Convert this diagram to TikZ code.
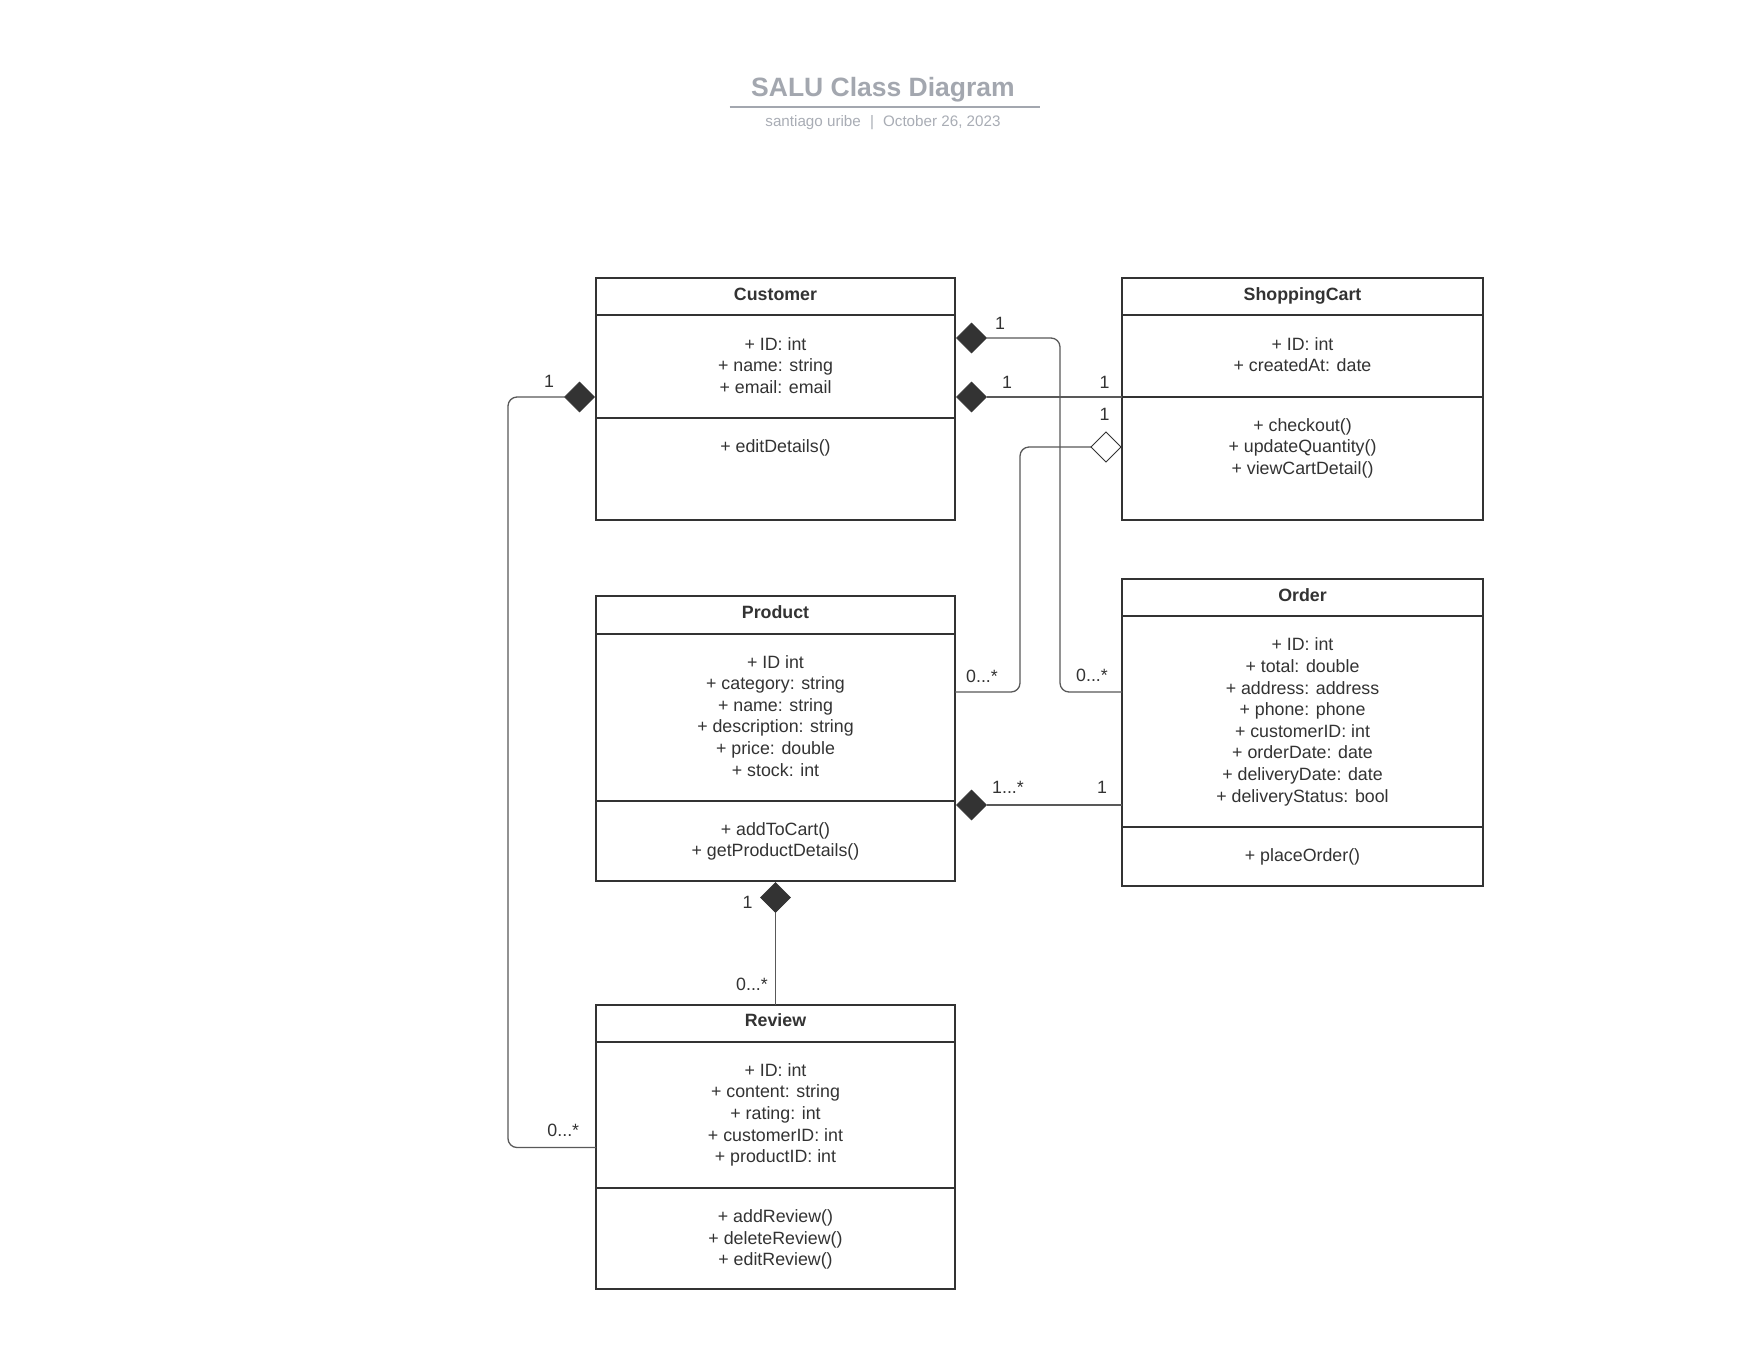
\documentclass[tikz,border=0pt]{standalone}
\usepackage{fontspec}
\setmainfont{Liberation Sans}
\usetikzlibrary{calc}
\definecolor{ink}{HTML}{333333}
\definecolor{connc}{HTML}{595959}
\definecolor{titlegray}{HTML}{A3A7AF}
\definecolor{subgray}{HTML}{A9ADB5}
\begin{document}
\begin{tikzpicture}[x=1pt,y=-1pt,
 classbox/.style={draw=ink, line width=2pt, inner sep=0pt, outer sep=0pt, anchor=north west},
 sepline/.style={draw=ink, line width=2pt},
 cname/.style={font=\fontsize{17.8}{21.6}\selectfont\bfseries, text=ink, inner sep=0pt, anchor=base},
 members/.style={font=\fontsize{17.8}{21.6}\selectfont, text=ink, align=center, inner sep=0pt, anchor=north},
 mult/.style={font=\fontsize{17.8}{21.6}\selectfont, text=ink, inner sep=0pt, anchor=base},
 connline/.style={draw=connc, line width=1.3pt, rounded corners=9pt},
 fdia/.style={fill=ink, draw=ink, line width=0.6pt, line join=miter},
 hdia/.style={fill=white, draw=ink, line width=1pt, line join=miter},
]
\useasboundingbox[fill=white] (0,0) rectangle (1760,1360);

% Title
\node[font=\fontsize{26.5}{30}\selectfont\bfseries, text=titlegray, inner sep=0pt, anchor=base] (title) at (883,96) {SALU Class Diagram};
\coordinate (ulL) at (729.5,107);
\coordinate (ulR) at (1040,107);
\draw[titlegray, line width=2pt] (ulL) -- (ulR);
\node[font=\fontsize{15.2}{18}\selectfont, text=subgray, inner sep=0pt, anchor=base] (subtitle) at (883,126) {santiago uribe\hspace{0.6em}|\hspace{0.6em}October 26, 2023};

% Classes
\node[classbox, minimum width=359pt, minimum height=242pt] (cust) at (596,278) {};
\node[classbox, minimum width=361pt, minimum height=242pt] (cart) at (1122,278) {};
\node[classbox, minimum width=359pt, minimum height=285pt] (prod) at (596,596) {};
\node[classbox, minimum width=361pt, minimum height=307pt] (order) at (1122,579) {};
\node[classbox, minimum width=359pt, minimum height=284pt] (rev) at (596,1004.5) {};

% separators
\draw[sepline] (cust.west |- 0,315.4) -- (cust.east |- 0,315.4);
\draw[sepline] (cust.west |- 0,417.5) -- (cust.east |- 0,417.5);
\draw[sepline] (cart.west |- 0,315.4) -- (cart.east |- 0,315.4);
\draw[sepline] (cart.west |- 0,397.3) -- (cart.east |- 0,397.3);
\draw[sepline] (prod.west |- 0,634.2) -- (prod.east |- 0,634.2);
\draw[sepline] (prod.west |- 0,801.4) -- (prod.east |- 0,801.4);
\draw[sepline] (order.west |- 0,616.2) -- (order.east |- 0,616.2);
\draw[sepline] (order.west |- 0,827.2) -- (order.east |- 0,827.2);
\draw[sepline] (rev.west |- 0,1041.6) -- (rev.east |- 0,1041.6);
\draw[sepline] (rev.west |- 0,1187.5) -- (rev.east |- 0,1187.5);

% names
\node[cname] (custN) at (775.5,300.5) {Customer};
\node[cname] (cartN) at (1302.5,300.5) {ShoppingCart};
\node[cname] (prodN) at (775.5,618) {Product};
\node[cname] (orderN) at (1302.5,601.5) {Order};
\node[cname] (revN) at (775.5,1026.5) {Review};

% members
\node[members] (custA) at (775.5,337) {+ ID: int\\+ name: string\\+ email: email};
\node[members] (custM) at (775.5,439) {+ editDetails()};
\node[members] (cartA) at (1302.5,337) {+ ID: int\\+ createdAt: date};
\node[members] (cartM) at (1302.5,418) {+ checkout()\\+ updateQuantity()\\+ viewCartDetail()};
\node[members] (prodA) at (775.5,655) {+ ID int\\+ category: string\\+ name: string\\+ description: string\\+ price: double\\+ stock: int};
\node[members] (prodM) at (775.5,822) {+ addToCart()\\+ getProductDetails()};
\node[members] (orderA) at (1302.5,637.8) {+ ID: int\\+ total: double\\+ address: address\\+ phone: phone\\+ customerID: int\\+ orderDate: date\\+ deliveryDate: date\\+ deliveryStatus: bool};
\node[members] (orderM) at (1302.5,848.5) {+ placeOrder()};
\node[members] (revA) at (775.5,1063.2) {+ ID: int\\+ content: string\\+ rating: int\\+ customerID: int\\+ productID: int};
\node[members] (revM) at (775.5,1209.5) {+ addReview()\\+ deleteReview()\\+ editReview()};

% connection points
\coordinate (c1s) at ($(cust.north east)+(1.5,60)$);
\coordinate (c1e) at ($(order.north west)+(0,113)$);
\coordinate (c2s) at ($(cust.north east)+(1.5,119)$);
\coordinate (c3s) at ($(cart.north west)+(-1,169)$);
\coordinate (c3e) at ($(prod.north east)+(0,96)$);
\coordinate (c4s) at ($(cust.north west)+(-1.5,119)$);
\coordinate (c4e) at ($(rev.north west)+(0,143)$);
\coordinate (c5s) at ($(prod.north east)+(1.5,209)$);
\coordinate (c6s) at ($(prod.south)+(0,1.5)$);

% connectors
\draw[connline] ($(c1s)+(30,0)$) -- ($(c1s)+(103.5,0)$) |- (c1e);
\draw[connline] ($(c2s)+(30,0)$) -- (cart.west |- c2s);
\draw[connline] ($(c3s)+(-30,0)$) -- ($(c3s)+(-101,0)$) |- (c3e);
\draw[connline] ($(c4s)+(-30,0)$) -- ($(c4s)+(-86.5,0)$) |- (c4e);
\draw[connline] ($(c5s)+(30,0)$) -- (order.west |- c5s);
\draw[connline] ($(c6s)+(0,30)$) -- (rev.north);

% diamonds
\filldraw[fdia] (c1s) -- ++(15,-15) -- ++(15,15) -- ++(-15,15) -- cycle;
\filldraw[fdia] (c2s) -- ++(15,-15) -- ++(15,15) -- ++(-15,15) -- cycle;
\filldraw[hdia] (c3s) -- ++(-15,-15) -- ++(-15,15) -- ++(15,15) -- cycle;
\filldraw[fdia] (c4s) -- ++(-15,-15) -- ++(-15,15) -- ++(15,15) -- cycle;
\filldraw[fdia] (c5s) -- ++(15,-15) -- ++(15,15) -- ++(-15,15) -- cycle;
\filldraw[fdia] (c6s) -- ++(15,15) -- ++(-15,15) -- ++(-15,-15) -- cycle;

% multiplicities
\node[mult] (m1a) at (1000,329) {1};
\node[mult] (m1b) at (1092,681.5) {0...*};
\node[mult] (m2a) at (1007,388.6) {1};
\node[mult] (m2b) at (1104.5,388.6) {1};
\node[mult] (m3a) at (1104.5,420) {1};
\node[mult] (m3b) at (982,682.7) {0...*};
\node[mult] (m4a) at (549,387.5) {1};
\node[mult] (m4b) at (563.3,1136) {0...*};
\node[mult] (m5a) at (1008,793.8) {1...*};
\node[mult] (m5b) at (1102,793.8) {1};
\node[mult] (m6a) at (747.5,908.3) {1};
\node[mult] (m6b) at (752,990) {0...*};
\end{tikzpicture}
\end{document}
